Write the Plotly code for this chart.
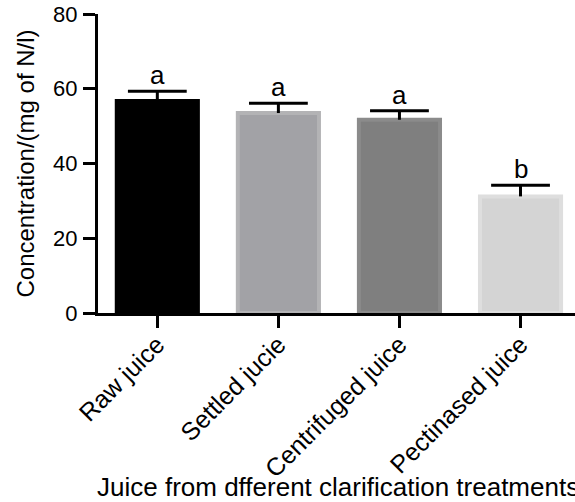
import plotly.graph_objects as go

categories = ["Raw juice", "Settled jucie", "Centrifuged juice", "Pectinased juice"]
values = [56.7, 53.5, 51.7, 31.2]
errors = [2.6, 2.6, 2.4, 3.0]
letters = ["a", "a", "a", "b"]
fills = ["#000000", "#a2a2a6", "#7f7f7f", "#d4d4d4"]
borders = ["#000000", "#b3b3b5", "#8b8b8b", "#dedede"]
y_ticks = [0, 20, 40, 60, 80]

FONT = "Liberation Sans, Arial, sans-serif"

fig = go.Figure()
fig.add_trace(go.Bar(
    x=categories, y=values, width=0.67,
    marker=dict(color=fills, line=dict(color=borders, width=4)),
    showlegend=False, hoverinfo="skip",
))

# upper-only error bars: stems + caps
tops = [v + e for v, e in zip(values, errors)]
stem_x, stem_y = [], []
for c, v, t in zip(categories, values, tops):
    stem_x += [c, c, None]
    stem_y += [v, t, None]
fig.add_trace(go.Scatter(x=stem_x, y=stem_y, mode="lines",
                         line=dict(color="#000000", width=3),
                         showlegend=False, hoverinfo="skip"))
fig.add_trace(go.Scatter(x=categories, y=tops, mode="markers",
                         marker=dict(symbol="line-ew", size=42,
                                     line=dict(color="#000000", width=3)),
                         showlegend=False, hoverinfo="skip"))

for c, t, s in zip(categories, tops, letters):
    fig.add_annotation(x=c, y=t, text=s, showarrow=False, yanchor="bottom",
                       font=dict(family=FONT, size=26, color="#000000"), yshift=-1)

fig.add_annotation(xref="paper", yref="paper", x=-0.006, y=-0.582,
                   xanchor="left", yanchor="middle", showarrow=False,
                   text="Juice from dfferent clarification treatments",
                   font=dict(family=FONT, size=26, color="#000000"))

fig.update_layout(
    width=575, height=502,
    margin=dict(l=98, r=0, t=14, b=189, pad=0),
    paper_bgcolor="#ffffff", plot_bgcolor="#ffffff",
    font=dict(family=FONT, color="#000000"),
)
fig.update_xaxes(
    range=[-0.49, 3.45], showline=True, linecolor="#000000", linewidth=3,
    ticks="outside", ticklen=12, tickwidth=3, tickcolor="#000000",
    tickangle=-45, tickfont=dict(family=FONT, size=25, color="#000000"),
    ticklabelstandoff=-8, ticklabeloverflow="allow",
    showgrid=False, zeroline=False, automargin=False,
)
fig.update_yaxes(
    range=[0, 80], tickvals=y_ticks, showline=True, linecolor="#000000", linewidth=3,
    ticks="outside", ticklen=12, tickwidth=3, tickcolor="#000000",
    tickfont=dict(family=FONT, size=22, color="#000000"),
    ticklabelstandoff=1, ticklabeloverflow="allow",
    title=dict(text="Concentration/(mg of N/l)", font=dict(family=FONT, size=24, color="#000000"), standoff=12),
    showgrid=False, zeroline=False, automargin=False,
)

# remove the browser's default 8px body margin so the figure fills the window
fig.write_html("out.html", config={"displayModeBar": False},
               post_script="document.body.style.margin='0';")
